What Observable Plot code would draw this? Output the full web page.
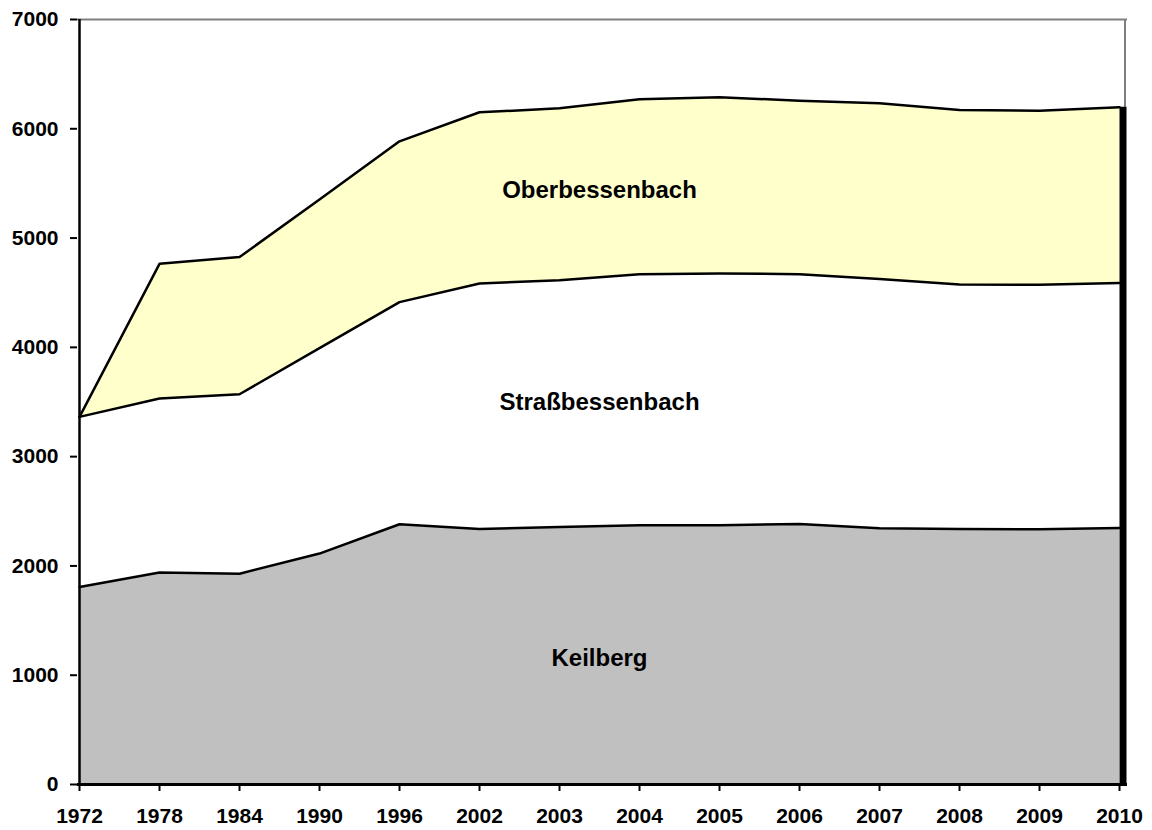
<!DOCTYPE html>
<html>
<head>
<meta charset="utf-8">
<script src="https://cdn.jsdelivr.net/npm/d3@7"></script>
<script src="https://cdn.jsdelivr.net/npm/@observablehq/plot@0.6"></script>
<style>
  html, body { margin: 0; padding: 0; background: #fff; }
  #chart svg { display: block; }
</style>
</head>
<body>
<div id="chart"></div>
<script>
// Categories (equally spaced on the x axis)
const years = ["1972","1978","1984","1990","1996","2002","2003","2004","2005","2006","2007","2008","2009","2010"];

// Series values (inhabitants per district)
const seriesNames = ["Keilberg", "Straßbessenbach", "Oberbessenbach"];
const keilberg        = [1807, 1939, 1929, 2113, 2381, 2338, 2356, 2372, 2372, 2384, 2344, 2338, 2335, 2347];
const strassbessenbach = [1557, 1593, 1642, 1880, 2033, 2247, 2259, 2296, 2304, 2286, 2281, 2238, 2238, 2241];
const oberbessenbach  = [0, 1232, 1255, 1360, 1471, 1566, 1572, 1602, 1612, 1587, 1608, 1596, 1593, 1609];
const seriesColors = ["#C0C0C0", "#FFFFFF", "#FFFFCC"];

// Y ticks
const yTicks = [0, 1000, 2000, 3000, 4000, 5000, 6000, 7000];

// Series name labels placed inside the areas (year category + value)
const labelYear = ["2003", "2003", "2003"];
const labelValue = [1154, 3498, 5440];

const seriesValues = [keilberg, strassbessenbach, oberbessenbach];
const long = [];
seriesNames.forEach((name, i) => {
  years.forEach((yr, j) => long.push({year: yr, series: name, value: seriesValues[i][j]}));
});
const totals = years.map((yr, j) => ({year: yr, total: keilberg[j] + strassbessenbach[j] + oberbessenbach[j]}));
const lastTotal = [totals[totals.length - 1]];
const labels = seriesNames.map((n, i) => ({name: n, year: labelYear[i], value: labelValue[i]}));

const font = "Arial, 'Liberation Sans', sans-serif";

const chart = Plot.plot({
  width: 1152,
  height: 830,
  marginLeft: 77,
  marginRight: 31,
  marginTop: 19,
  marginBottom: 46,
  style: {fontFamily: font, fontWeight: "bold", fontSize: "21px", color: "#000", background: "#fff"},
  x: {type: "point", domain: years, padding: 0, label: null},
  y: {domain: [0, 7000], label: null},
  color: {domain: seriesNames, range: seriesColors},
  marks: [
    Plot.areaY(long, Plot.stackY({x: "year", y: "value", fill: "series", order: seriesNames})),
    Plot.lineY(long, Plot.stackY2({x: "year", y: "value", z: "series", order: seriesNames, stroke: "#000", strokeWidth: 2.5})),
    // plot area border (top and right, gray)
    Plot.ruleY([7000], {stroke: "#808080", strokeWidth: 2, insetRight: -6}),
    Plot.ruleX(lastTotal, {x: "year", y1: 0, y2: 7000, stroke: "#808080", strokeWidth: 2, dx: 5.5}),
    // thick right edge of the area
    Plot.ruleX(lastTotal, {x: "year", y1: 0, y2: "total", stroke: "#000", strokeWidth: 7, dx: 3.5}),
    // axis lines
    Plot.ruleX([years[0]], {y1: 0, y2: 7000, stroke: "#000", strokeWidth: 2.5}),
    Plot.ruleY([0], {stroke: "#000", strokeWidth: 3, insetRight: -6}),
    Plot.axisY({ticks: yTicks, tickSize: 7, tickPadding: 12, tickFormat: d => String(d), strokeWidth: 2, fontSize: 21, fontWeight: "bold"}),
    Plot.axisX({tickSize: 7, tickPadding: 17, strokeWidth: 2, fontSize: 21, fontWeight: "bold"}),
    Plot.text(labels, {x: "year", y: "value", text: "name", dx: 40, fontSize: 24, fontWeight: "bold", fill: "#000", textAnchor: "middle", lineAnchor: "middle"})
  ]
});
document.getElementById("chart").appendChild(chart);
</script>
</body>
</html>
